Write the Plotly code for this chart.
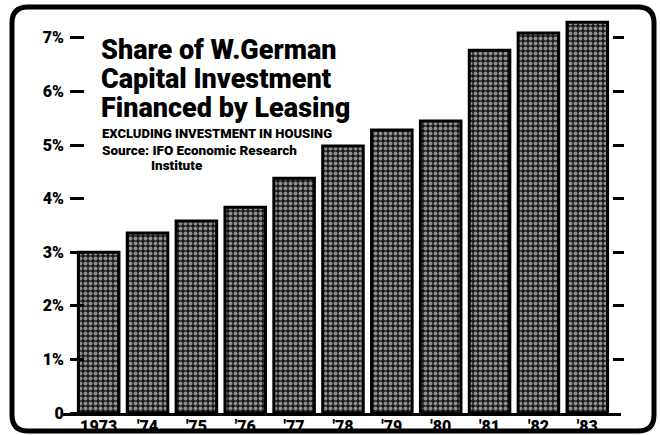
import plotly.graph_objects as go

years = ["1973", "'74", "'75", "'76", "'77", "'78", "'79", "'80", "'81", "'82", "'83"]
share = [3.0, 3.36, 3.58, 3.84, 4.38, 4.98, 5.28, 5.45, 6.77, 7.09, 7.29]
ytick_vals = [0, 1, 2, 3, 4, 5, 6, 7]
ytick_text = ["0", "1%", "2%", "3%", "4%", "5%", "6%", "7%"]

FONT = "Roboto, Liberation Sans, Arial, sans-serif"

# pixel geometry of the plot area
L, R, T, B = 63, 621, 11, 413
W, H = 660, 435


def px(x):
    return (x - L) / (R - L)


def py(y):
    return (B - y) / (B - T)


fig = go.Figure()
fig.add_trace(go.Bar(
    x=list(range(len(years))), y=share, width=0.83,
    marker=dict(color="#222222", line=dict(color="black", width=3),
                pattern=dict(shape=".", fgcolor="#ffffff", bgcolor="#1a1a1a",
                             size=5, solidity=0.5)),
    hoverinfo="skip", showlegend=False))
fig.add_trace(go.Scatter(x=[0], y=[0], yaxis="y2", mode="markers",
                         marker=dict(opacity=0), showlegend=False, hoverinfo="skip"))

fig.update_layout(
    width=W, height=H, margin=dict(l=L, r=W - R, t=T, b=H - B, autoexpand=False),
    paper_bgcolor="white", plot_bgcolor="white",
    font=dict(family=FONT, color="black"),
    xaxis=dict(range=[-0.73, 10.69], tickmode="array", automargin=False,
               tickvals=list(range(len(years))), ticktext=years,
               showline=True, linecolor="black", linewidth=3, ticks="",
               ticklabelstandoff=-3,
               showgrid=False, zeroline=False,
               tickfont=dict(size=16, family=FONT, color="black", weight=900)),
    yaxis=dict(range=[0, 7.5], tickmode="array", tickvals=ytick_vals, ticktext=ytick_text,
               anchor="free", position=px(84), showline=False, showgrid=False,
               automargin=False, ticklabelstandoff=3,
               zeroline=False, ticks="outside", ticklen=14, tickwidth=3, tickcolor="black",
               tickfont=dict(size=16, family=FONT, color="black", weight=900)),
    yaxis2=dict(range=[0, 7.5], overlaying="y", anchor="free", position=px(612),
                side="right", tickmode="array", tickvals=[1, 2, 3, 4, 5, 6, 7],
                automargin=False,
                showticklabels=False, ticks="outside", ticklen=11, tickwidth=3,
                tickcolor="black", showgrid=False, zeroline=False, showline=False),
)

# rounded frame
x0, x1, y0, y1, r = 12, 654, 7, 431, 16
path = (f"M {px(x0+r)},{py(y0)} L {px(x1-r)},{py(y0)} Q {px(x1)},{py(y0)} {px(x1)},{py(y0+r)} "
        f"L {px(x1)},{py(y1-r)} Q {px(x1)},{py(y1)} {px(x1-r)},{py(y1)} "
        f"L {px(x0+r)},{py(y1)} Q {px(x0)},{py(y1)} {px(x0)},{py(y1-r)} "
        f"L {px(x0)},{py(y0+r)} Q {px(x0)},{py(y0)} {px(x0+r)},{py(y0)} Z")
fig.add_shape(type="path", path=path, xref="paper", yref="paper",
              line=dict(color="black", width=5), layer="above")

title_lines = ["Share of W.German", "Capital Investment", "Financed by Leasing"]
for i, t in enumerate(title_lines):
    fig.add_annotation(x=px(99), y=py(50 + 29 * i), xref="paper", yref="paper",
                       text=t, showarrow=False, xanchor="left", yanchor="middle",
                       font=dict(size=27, family=FONT, color="black", weight=900))
fig.add_annotation(x=px(100), y=py(133), xref="paper", yref="paper",
                   text="EXCLUDING INVESTMENT IN HOUSING", showarrow=False,
                   xanchor="left", yanchor="middle",
                   font=dict(size=13, family=FONT, weight=900))
fig.add_annotation(x=px(100), y=py(150), xref="paper", yref="paper",
                   text="Source: IFO Economic Research", showarrow=False,
                   xanchor="left", yanchor="middle",
                   font=dict(size=13.5, family=FONT, weight=900))
fig.add_annotation(x=px(177), y=py(165), xref="paper", yref="paper",
                   text="Institute", showarrow=False,
                   xanchor="center", yanchor="middle",
                   font=dict(size=13.5, family=FONT, weight=900))

fig.write_html("out.html", config={"displayModeBar": False},
               post_script="document.body.style.margin='0';")
